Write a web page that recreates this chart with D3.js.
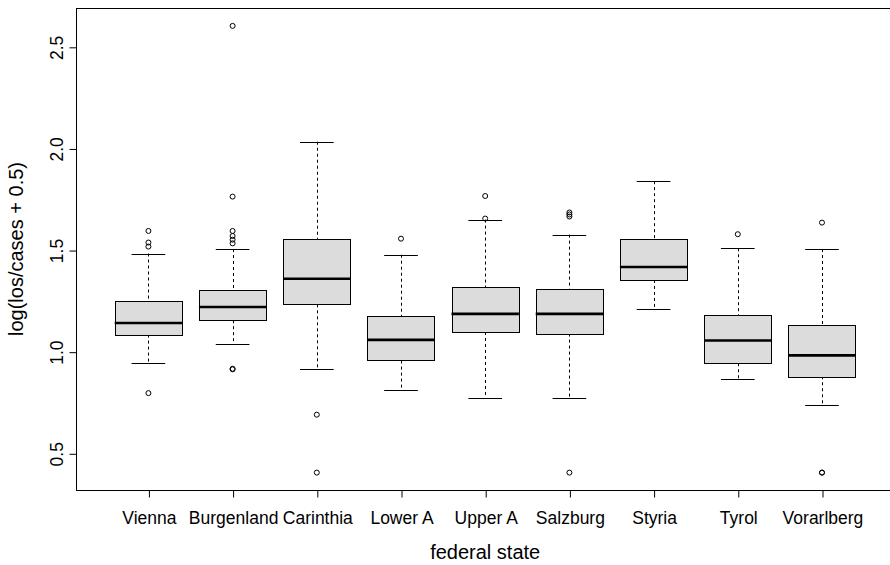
<!DOCTYPE html>
<html><head><meta charset="utf-8">
<script src="https://cdn.jsdelivr.net/npm/d3@7"></script>
<style>
body{margin:0;background:#fff}
svg{display:block}
text{font-family:"Liberation Sans",Arial,Helvetica,sans-serif;fill:#000}
</style>
</head><body>
<svg id="c" width="890" height="565"></svg>
<script>
const categories = ["Vienna","Burgenland","Carinthia","Lower A","Upper A","Salzburg","Styria","Tyrol","Vorarlberg"];
const whiskerLow  = [0.944,1.038,0.915,0.810,0.774,0.774,1.210,0.864,0.736];
const q1          = [1.084,1.155,1.233,0.956,1.097,1.089,1.353,0.943,0.879];
const median      = [1.141,1.220,1.359,1.058,1.186,1.186,1.417,1.055,0.982];
const q3          = [1.251,1.302,1.555,1.174,1.318,1.309,1.556,1.181,1.133];
const whiskerHigh = [1.483,1.505,2.033,1.477,1.650,1.576,1.839,1.509,1.505];
const outliers = [
  [0.796,1.517,1.537,1.594],
  [0.913,0.916,1.533,1.551,1.569,1.594,1.763,2.603],
  [0.405,0.690],
  [1.556],
  [1.655,1.766],
  [0.405,1.665,1.675,1.685],
  [],
  [1.578],
  [0.405,0.405,1.635]
];
const yTicks = [0.5,1.0,1.5,2.0,2.5];
const xTitle = "federal state";
const yTitle = "log(los/cases + 0.5)";

const svg = d3.select("#c");
const L = 76, R = 894.4, T = 8, B = 490;
const x = d3.scaleLinear().domain([0.14, 9.86]).range([L, R]);
const y = d3.scaleLinear().domain([0.3194, 2.691]).range([B, T]);
const px = v => Math.round(v) + 0.5;
const tickFont = "17.5px", titleFont = "20px";

// frame
svg.append("rect").attr("x", px(L)).attr("y", px(T))
  .attr("width", R - L).attr("height", Math.round(B) - Math.round(T))
  .attr("fill", "none").attr("stroke", "#000").attr("stroke-width", 1);

// y axis
const yAxis = d3.axisLeft(y).tickValues(yTicks).tickSize(7).tickPadding(0)
  .tickFormat(d3.format(".1f"));
const gy = svg.append("g").attr("transform", `translate(${px(L)},0.5)`).call(yAxis);
gy.select(".domain").remove();
gy.selectAll(".tick line").attr("stroke", "#000");
gy.selectAll(".tick text")
  .attr("x", 0).attr("dy", null).attr("y", 0)
  .attr("transform", "translate(-14,0) rotate(-90)")
  .attr("text-anchor", "middle")
  .style("font-size", tickFont).style("font-family", '"Liberation Sans",Arial,sans-serif');

// x axis
const xAxis = d3.axisBottom(x).tickValues(categories.map((c, i) => i + 1))
  .tickSize(7).tickPadding(0).tickFormat((d) => categories[d - 1]);
const gx = svg.append("g").attr("transform", `translate(0.5,${px(B)})`).call(xAxis);
gx.select(".domain").remove();
gx.selectAll(".tick line").attr("stroke", "#000");
gx.selectAll(".tick text").attr("y", 33).attr("dy", null)
  .style("font-size", tickFont).style("font-family", '"Liberation Sans",Arial,sans-serif');

// titles
svg.append("text").attr("x", (L + R) / 2).attr("y", 559)
  .attr("text-anchor", "middle").style("font-size", titleFont).text(xTitle);
svg.append("text").attr("transform", `translate(22.5,${(T + B) / 2}) rotate(-90)`)
  .attr("text-anchor", "middle").style("font-size", titleFont).text(yTitle);

// boxes
const bw = 0.4, sw = 0.2;
categories.forEach((c, i) => {
  const cx = i + 1;
  const g = svg.append("g");
  const xc = px(x(cx));
  g.append("line").attr("x1", xc).attr("x2", xc).attr("y1", y(whiskerHigh[i])).attr("y2", y(q3[i]))
    .attr("stroke", "#000").attr("stroke-dasharray", "3,3");
  g.append("line").attr("x1", xc).attr("x2", xc).attr("y1", y(q1[i])).attr("y2", y(whiskerLow[i]))
    .attr("stroke", "#000").attr("stroke-dasharray", "3,3");
  [whiskerHigh[i], whiskerLow[i]].forEach(v => {
    g.append("line").attr("x1", x(cx - sw)).attr("x2", x(cx + sw))
      .attr("y1", px(y(v))).attr("y2", px(y(v))).attr("stroke", "#000");
  });
  g.append("rect").attr("x", px(x(cx - bw))).attr("y", px(y(q3[i])))
    .attr("width", Math.round(x(cx + bw) - x(cx - bw)))
    .attr("height", Math.round(y(q1[i]) - y(q3[i])))
    .attr("fill", "#dcdcdc").attr("stroke", "#000");
  g.append("line").attr("x1", x(cx - bw)).attr("x2", x(cx + bw))
    .attr("y1", y(median[i])).attr("y2", y(median[i]))
    .attr("stroke", "#000").attr("stroke-width", 2.6);
  g.selectAll("circle").data(outliers[i]).join("circle")
    .attr("cx", x(cx)).attr("cy", d => y(d)).attr("r", 2.5)
    .attr("fill", "none").attr("stroke", "#000").attr("stroke-width", 1);
});
</script>
</body></html>
